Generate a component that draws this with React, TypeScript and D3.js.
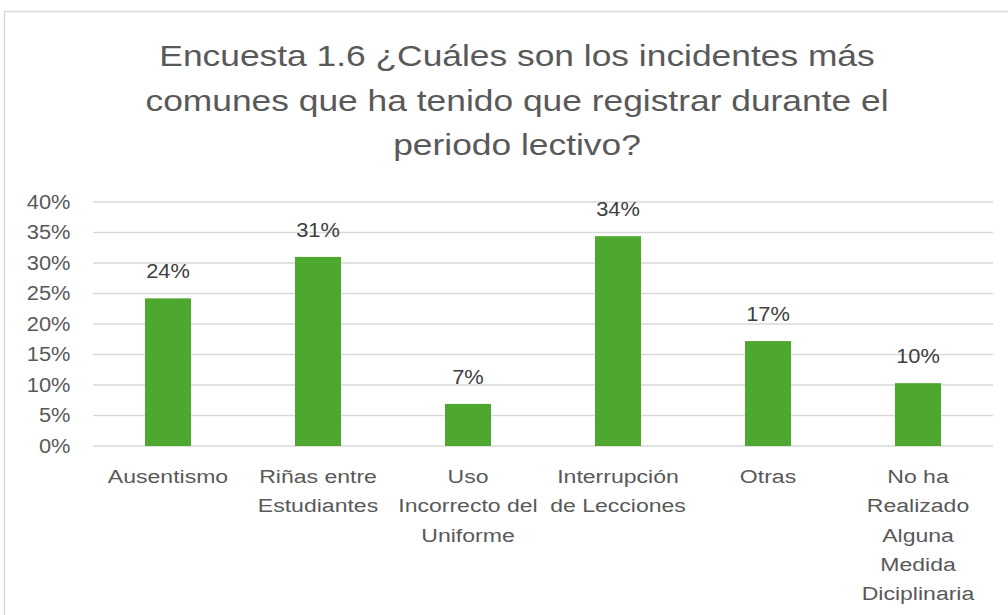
import React from "react";
import * as d3 from "d3";

const categories: string[][] = [
  ["Ausentismo"],
  ["Riñas entre", "Estudiantes"],
  ["Uso", "Incorrecto del", "Uniforme"],
  ["Interrupción", "de Lecciones"],
  ["Otras"],
  ["No ha", "Realizado", "Alguna", "Medida", "Diciplinaria"],
];
const values: number[] = [0.242, 0.31, 0.069, 0.344, 0.172, 0.103];
const valueLabels: string[] = ["24%", "31%", "7%", "34%", "17%", "10%"];
const yTicks: number[] = [0, 0.05, 0.1, 0.15, 0.2, 0.25, 0.3, 0.35, 0.4];
const titleLines: string[] = [
  "Encuesta 1.6 ¿Cuáles son los incidentes más",
  "comunes que ha tenido que registrar durante el",
  "periodo lectivo?",
];

const W = 1008;
const H = 615;
const left = 93;
const right = 993;
const top = 202;
const bottom = 446;
const sans = "'Liberation Sans', Arial, sans-serif";

function SText(props: { x: number; y: number; s: number; size: number; fill: string; anchor: string; children: React.ReactNode }) {
  return (
    <text
      transform={`translate(${props.x},${props.y}) scale(${props.s},1)`}
      textAnchor={props.anchor}
      fontFamily={sans}
      fontSize={props.size}
      fill={props.fill}
    >
      {props.children}
    </text>
  );
}

export default function App() {
  const x = d3.scaleBand<number>().domain(d3.range(values.length)).range([left, right]).paddingInner(0.693).paddingOuter(0.3465);
  const y = d3.scaleLinear().domain([0, 0.4]).range([bottom, top]);
  const pct = d3.format(".0%");
  return (
    <svg width={W} height={H} style={{ position: "absolute", left: 0, top: 0, background: "#fff" }}>
      <rect x={4.5} y={11.5} width={1020} height={620} fill="#fff" stroke="#d9d9d9" strokeWidth={1.5} />
      {titleLines.map((t, i) => (
        <SText key={i} x={517} y={66 + i * 44.5} s={1.22} size={29} fill="#595959" anchor="middle">
          {t}
        </SText>
      ))}
      {yTicks.map((t, i) => (
        <g key={i}>
          <line x1={left} x2={right} y1={y(t)} y2={y(t)} stroke="#d9d9d9" strokeWidth={1.5} />
          <SText x={70.5} y={y(t) + 6.7} s={1.12} size={19.5} fill="#595959" anchor="end">
            {pct(t)}
          </SText>
        </g>
      ))}
      {values.map((v, i) => (
        <g key={i}>
          <rect x={x(i)} y={y(v)} width={x.bandwidth()} height={y(0) - y(v)} fill="#4ea72e" />
          <SText x={(x(i) as number) + x.bandwidth() / 2} y={y(v) - 20} s={1.12} size={19.5} fill="#404040" anchor="middle">
            {valueLabels[i]}
          </SText>
        </g>
      ))}
      {categories.map((lines, i) =>
        lines.map((l, j) => (
          <SText key={`${i}-${j}`} x={(x(i) as number) + x.bandwidth() / 2} y={483 + j * 29.3} s={1.28} size={18} fill="#595959" anchor="middle">
            {l}
          </SText>
        ))
      )}
    </svg>
  );
}
